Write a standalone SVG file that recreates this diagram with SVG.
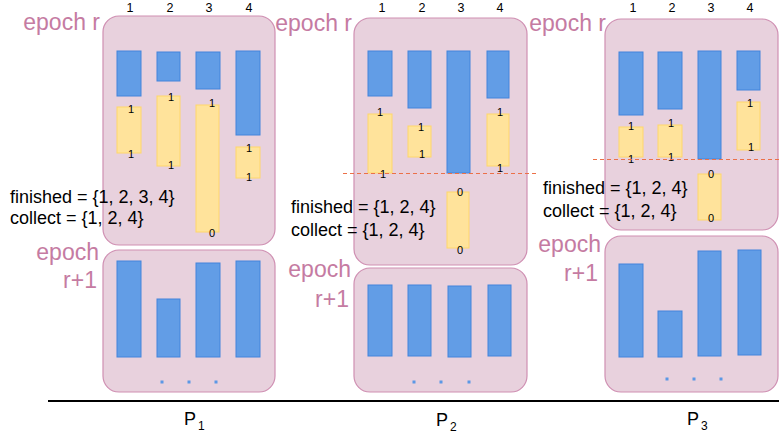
<svg xmlns="http://www.w3.org/2000/svg" width="779" height="438" viewBox="0 0 779 438">
<style>
.box{fill:#e8d1dd;stroke:#cf8fb2;stroke-width:1.2}
.b{fill:#629de6;stroke:#4284dc;stroke-width:1}
.y{fill:#ffe39b;stroke:#ffd76a;stroke-width:1}
.dot{fill:#5b98e6}
.ep{font-family:"Liberation Sans",Arial,sans-serif;font-size:23px;fill:#c57ba2;text-anchor:end}
.hd{font-family:"Liberation Sans",Arial,sans-serif;font-size:12.5px;fill:#000;text-anchor:middle}
.n{font-family:"Liberation Sans",Arial,sans-serif;font-size:11px;fill:#000;text-anchor:middle}
.t{font-family:"Liberation Sans",Arial,sans-serif;font-size:18px;fill:#000}
.p{font-family:"Liberation Sans",Arial,sans-serif;font-size:18px;fill:#000}
.ps{font-family:"Liberation Sans",Arial,sans-serif;font-size:12px;fill:#000}
.dash{stroke:#ec7048;stroke-width:1;stroke-dasharray:4 3;fill:none}
</style>
<rect x="0" y="0" width="779" height="438" fill="#ffffff"/>

<g id="P1">
  <text class="ep" x="100" y="30">epoch r</text>
  <rect class="box" x="103" y="16" width="172" height="229" rx="16"/>
  <text class="hd" x="130" y="12">1</text>
  <text class="hd" x="170" y="12">2</text>
  <text class="hd" x="209" y="12">3</text>
  <text class="hd" x="249" y="12">4</text>
  <rect class="b" x="117" y="51" width="24" height="45"/>
  <rect class="b" x="157" y="52" width="23" height="29"/>
  <rect class="b" x="196" y="52" width="24" height="37"/>
  <rect class="b" x="236" y="51" width="24" height="84"/>
  <rect class="y" x="117" y="107" width="24" height="46"/>
  <rect class="y" x="157" y="96" width="23" height="70"/>
  <rect class="y" x="196" y="105" width="23" height="127"/>
  <rect class="y" x="236" y="147" width="24" height="31"/>
  <text class="n" x="131" y="113">1</text>
  <text class="n" x="131" y="158">1</text>
  <text class="n" x="171" y="101">1</text>
  <text class="n" x="171" y="169">1</text>
  <text class="n" x="212" y="107">1</text>
  <text class="n" x="212" y="237">0</text>
  <text class="n" x="249" y="152">1</text>
  <text class="n" x="249" y="181">1</text>
  <text class="t" x="10" y="203">finished = {1, 2, 3, 4}</text>
  <text class="t" x="10" y="224">collect = {1, 2, 4}</text>
  <text class="ep" x="99" y="260">epoch</text>
  <text class="ep" x="97" y="288">r+1</text>
  <rect class="box" x="103" y="250" width="172" height="142" rx="16"/>
  <rect class="b" x="117" y="261" width="24" height="96"/>
  <rect class="b" x="157" y="299" width="23" height="58"/>
  <rect class="b" x="196" y="263" width="24" height="94"/>
  <rect class="b" x="236" y="261" width="24" height="96"/>
  <rect class="dot" x="160.5" y="380.5" width="3" height="3"/>
  <rect class="dot" x="187.5" y="380.5" width="3" height="3"/>
  <rect class="dot" x="214.5" y="380.5" width="3" height="3"/>
  <text class="p" x="184" y="425">P</text><text class="ps" x="198" y="430">1</text>
</g>

<g id="P2">
  <text class="ep" x="352" y="31">epoch r</text>
  <rect class="box" x="354" y="18" width="173" height="247" rx="16"/>
  <text class="hd" x="382" y="12">1</text>
  <text class="hd" x="422" y="12">2</text>
  <text class="hd" x="461" y="12">3</text>
  <text class="hd" x="500" y="12">4</text>
  <rect class="b" x="368" y="51" width="24" height="45"/>
  <rect class="b" x="408" y="51" width="23" height="57"/>
  <rect class="b" x="447" y="51" width="23" height="122"/>
  <rect class="b" x="487" y="51" width="22" height="47"/>
  <rect class="y" x="368" y="114" width="24" height="59"/>
  <rect class="y" x="408" y="126" width="23" height="31"/>
  <rect class="y" x="487" y="114" width="22" height="52"/>
  <rect class="y" x="447" y="192" width="22" height="56"/>
  <text class="n" x="380" y="116">1</text>
  <text class="n" x="383" y="178">1</text>
  <text class="n" x="421" y="131">1</text>
  <text class="n" x="422" y="158">1</text>
  <text class="n" x="500" y="116">1</text>
  <text class="n" x="500" y="172">1</text>
  <text class="n" x="460" y="196">0</text>
  <text class="n" x="460" y="254">0</text>
  <text class="t" x="291" y="213">finished = {1, 2, 4}</text>
  <text class="t" x="291" y="236">collect = {1, 2, 4}</text>
  <text class="ep" x="351" y="277">epoch</text>
  <text class="ep" x="349" y="307">r+1</text>
  <rect class="box" x="354" y="268" width="173" height="124" rx="16"/>
  <rect class="b" x="368" y="285" width="24" height="71"/>
  <rect class="b" x="408" y="285" width="23" height="71"/>
  <rect class="b" x="448" y="286" width="23" height="71"/>
  <rect class="b" x="488" y="285" width="23" height="71"/>
  <rect class="dot" x="412.5" y="380.5" width="3" height="3"/>
  <rect class="dot" x="439.5" y="380.5" width="3" height="3"/>
  <rect class="dot" x="467.5" y="380.5" width="3" height="3"/>
  <text class="p" x="436" y="426">P</text><text class="ps" x="450" y="431">2</text>
</g>

<g id="P3">
  <text class="ep" x="606" y="31">epoch r</text>
  <rect class="box" x="605" y="19" width="173" height="211" rx="16"/>
  <text class="hd" x="633" y="12">1</text>
  <text class="hd" x="672" y="12">2</text>
  <text class="hd" x="711" y="12">3</text>
  <text class="hd" x="750" y="12">4</text>
  <rect class="b" x="619" y="52" width="24" height="63"/>
  <rect class="b" x="658" y="52" width="24" height="57"/>
  <rect class="b" x="698" y="51" width="23" height="108"/>
  <rect class="b" x="737" y="51" width="23" height="39"/>
  <rect class="y" x="619" y="127" width="24" height="30"/>
  <rect class="y" x="658" y="125" width="24" height="32"/>
  <rect class="y" x="737" y="102" width="23" height="48"/>
  <rect class="y" x="698" y="174" width="23" height="46"/>
  <text class="n" x="631" y="130">1</text>
  <text class="n" x="631" y="163">1</text>
  <text class="n" x="671" y="127">1</text>
  <text class="n" x="671" y="161">1</text>
  <text class="n" x="750" y="107">1</text>
  <text class="n" x="751" y="151">1</text>
  <text class="n" x="711" y="178">0</text>
  <text class="n" x="711" y="222">0</text>
  <text class="t" x="543" y="194">finished = {1, 2, 4}</text>
  <text class="t" x="543" y="217">collect = {1, 2, 4}</text>
  <text class="ep" x="601" y="252">epoch</text>
  <text class="ep" x="598" y="281">r+1</text>
  <rect class="box" x="605" y="236" width="173" height="156" rx="16"/>
  <rect class="b" x="619" y="264" width="24" height="93"/>
  <rect class="b" x="658" y="311" width="24" height="46"/>
  <rect class="b" x="698" y="251" width="23" height="105"/>
  <rect class="b" x="738" y="250" width="23" height="105"/>
  <rect class="dot" x="665.5" y="377.5" width="3" height="3"/>
  <rect class="dot" x="692.5" y="377.5" width="3" height="3"/>
  <rect class="dot" x="719.5" y="377.5" width="3" height="3"/>
  <text class="p" x="687" y="425">P</text><text class="ps" x="701" y="430">3</text>
</g>

<g id="connectors">
  <line class="dash" x1="343" y1="173.5" x2="538" y2="173.5"/>
  <line class="dash" x1="593" y1="159.5" x2="779" y2="159.5"/>
  <line x1="48" y1="401" x2="779" y2="401" stroke="#000" stroke-width="2"/>
</g>
</svg>
